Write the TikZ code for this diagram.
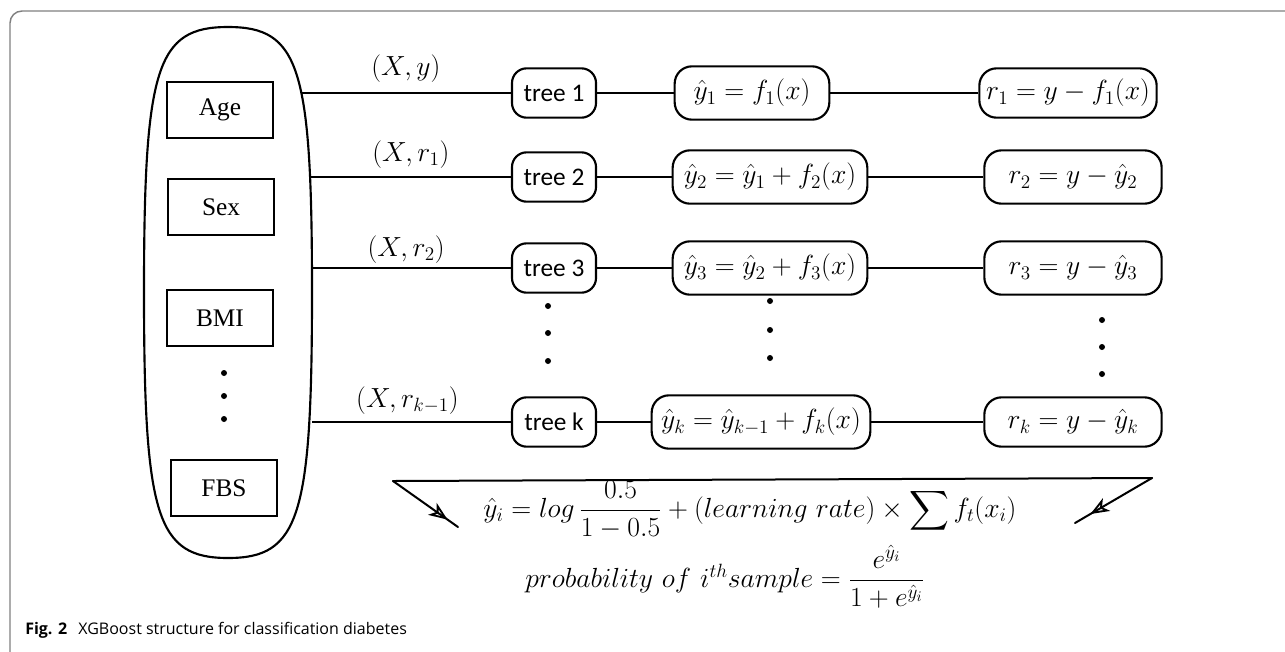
\documentclass[tikz,border=0pt]{standalone}
\usepackage{amsmath}
\usepackage{fontspec}
\newfontfamily\tnr{Liberation Serif}
\newfontfamily\calib{Carlito}
\newfontfamily\capfont{Open Sans}
\usetikzlibrary{arrows.meta,decorations.markings}
\tikzset{
  feat/.style={draw, line width=1.8pt, minimum width=79.5pt, minimum height=42pt, inner sep=0pt, font=\tnr\fontsize{19}{22}\selectfont},
  treebox/.style={draw, line width=1.6pt, rounded corners=11pt, minimum width=63pt, minimum height=37pt, inner sep=0pt, font=\calib\fontsize{19}{22}\selectfont},
  eqbox/.style={draw, line width=1.6pt, rounded corners=13pt, minimum height=40pt, inner sep=2pt, font=\fontsize{19.5}{23}\selectfont},
  link/.style={line width=1.5pt},
  lab/.style={above=#1, inner sep=0pt, font=\fontsize{19.5}{23}\selectfont},
  lab/.default=8pt,
  bigdot/.style={circle, fill, inner sep=0pt, minimum size=4.5pt},
  marrow/.style={postaction={decorate}, decoration={markings, mark=at position #1 with {\arrow{Stealth[open, length=14pt, width=11pt, inset=4pt, line width=1.4pt]}}}},
  formula/.style={inner sep=0pt}
}
\begin{document}
\begin{tikzpicture}[x=0.75pt, y=-0.75pt]
\useasboundingbox (0,0) rectangle (1285,651);
% frame
\draw[black!50, line width=1.1pt, rounded corners=9pt] (1300,11) -- (10,11) -- (10,660);
% ellipse-like container
\draw[line width=1.6pt] (228,27) .. controls (299.4,27) and (312,66.8) .. (312,292)
  .. controls (312,517) and (299.4,558) .. (228,558)
  .. controls (156.6,558) and (144,517) .. (144,292)
  .. controls (144,66.8) and (156.6,27) .. cycle;
% features
\node[feat] (age) at (220,110) {Age};
\node[feat] (sex) at (221,207) {Sex};
\node[feat] (bmi) at (220,318) {BMI};
\node[feat] (fbs) at (224,488) {FBS};
\node[bigdot] (fd1) at (224,373) {};
\node[bigdot] (fd2) at (224,396) {};
\node[bigdot] (fd3) at (224,419) {};
% ellipse exits
\coordinate (e1) at (301,93);
\coordinate (e2) at (311,177);
\coordinate (e3) at (312,268);
\coordinate (ek) at (312,422);
% trees
\node[treebox] (t1) at (554,93) {tree 1};
\node[treebox] (t2) at (554,177) {tree 2};
\node[treebox] (t3) at (554,268) {tree 3};
\node[treebox] (tk) at (554,422) {tree k};
% predictions
\node[eqbox, minimum width=116pt] (y1) at (752,93) {$\hat{y}_1 = f_1(x)$};
\node[eqbox, minimum width=146pt] (y2) at (770,177) {$\hat{y}_2 = \hat{y}_1 + f_2(x)$};
\node[eqbox, minimum width=146pt] (y3) at (770,268) {$\hat{y}_3 = \hat{y}_2 + f_3(x)$};
\node[eqbox, minimum width=164pt] (yk) at (761,422) {$\hat{y}_k = \hat{y}_{k-1} + f_k(x)$};
% residuals
\node[eqbox, minimum width=133pt, minimum height=37pt] (r1) at (1068,93) {$r_1 = y - f_1(x)$};
\node[eqbox, minimum width=133pt] (r2) at (1073,177) {$r_2 = y - \hat{y}_2$};
\node[eqbox, minimum width=133pt] (r3) at (1073,268) {$r_3 = y - \hat{y}_3$};
\node[eqbox, minimum width=133pt, minimum height=37pt] (rk) at (1073,422) {$r_k = y - \hat{y}_k$};
% connectors
\draw[link] (e1) -- node[lab=7pt] (l1) {$(X, y)$} (t1);
\draw[link] (e2) -- node[lab=6pt] (l2) {$(X, r_1)$} (t2);
\draw[link] (e3) -- node[lab=3pt, xshift=-4pt] (l3) {$(X, r_2)$} (t3);
\draw[link] (ek) -- node[lab=5pt, xshift=-3pt] (lk) {$(X, r_{k-1})$} (tk);
\draw[link] (t1) -- (y1); \draw[link] (y1) -- (r1);
\draw[link] (t2) -- (y2); \draw[link] (y2) -- (r2);
\draw[link] (t3) -- (y3); \draw[link] (y3) -- (r3);
\draw[link] (tk) -- (yk); \draw[link] (yk) -- (rk);
% vertical dots
\foreach \yy [count=\i] in {306,333,361} \node[bigdot] (td\i) at (548,\yy) {};
\foreach \yy [count=\i] in {301,330,358} \node[bigdot] (yd\i) at (770,\yy) {};
\foreach \yy [count=\i] in {320,347,374} \node[bigdot] (rd\i) at (1102,\yy) {};
% bottom arrows
\coordinate (bl) at (393,481);
\coordinate (blend) at (458,527);
\coordinate (br) at (1152,478);
\coordinate (brend) at (1075,523);
\draw[link, line cap=round] (bl) -- (br);
\draw[link, line cap=round, marrow=0.84] (bl) -- (blend);
\draw[link, line cap=round, marrow=0.8] (br) -- (brend);
% formulas
\node[formula, font=\fontsize{20.5}{24}\selectfont] (f1) at (750,510) {$\displaystyle \hat{y}_i = log\,\frac{0.5}{1-0.5} + (learning\ rate)\times\sum f_t(x_i)$};
\node[formula, font=\fontsize{22}{26}\selectfont] (f2) at (725,577) {$probability\ of\ i^{th}sample = \dfrac{e^{\hat{y}_i}}{1+e^{\hat{y}_i}}$};
% caption
\node[anchor=base west, inner sep=0pt, font=\capfont\fontsize{12}{14}\selectfont] (cap) at (25,634) {\textbf{Fig. 2}\hspace{0.7em}XGBoost structure for classification diabetes};
\end{tikzpicture}
\end{document}
